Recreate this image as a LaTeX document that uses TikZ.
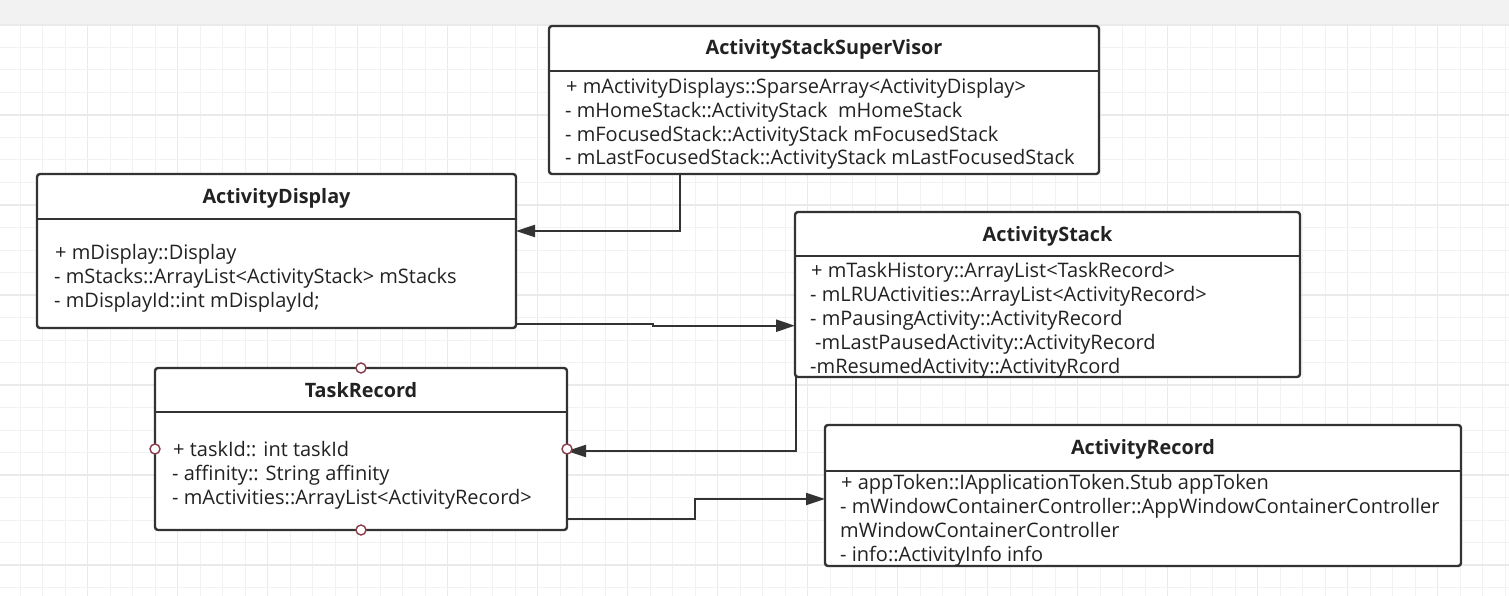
\documentclass[tikz,border=0pt]{standalone}
\usepackage{fontspec}
\setmainfont{Open Sans}
\usetikzlibrary{arrows.meta,calc}
\definecolor{linec}{HTML}{333333}
\definecolor{txtc}{HTML}{222222}
\definecolor{portc}{HTML}{8B3A48}
\definecolor{topc}{HTML}{F2F2F2}
\definecolor{gridminor}{HTML}{F2F2F2}
\definecolor{gridmajor}{HTML}{EAEAEA}
\begin{document}
\begin{tikzpicture}[x=1pt,y=-1pt,
  box/.style={draw=linec, line width=2.4pt, rounded corners=3pt, fill=white, inner sep=0pt, outer sep=0pt},
  divider/.style={draw=linec, line width=2.2pt},
  title/.style={anchor=base, inner sep=0pt, text=txtc, font=\fontsize{19.8}{22}\selectfont\bfseries},
  attr/.style={anchor=base west, inner sep=0pt, text=txtc, font=\fontsize{20}{22}\selectfont},
  conn/.style={draw=linec, line width=2.2pt, -{Triangle[length=19pt,width=12pt]}},
  port/.style={circle, draw=portc, line width=1.4pt, fill=white, minimum size=10pt, inner sep=0pt}
]
\useasboundingbox (0,0) rectangle (1509,596);
\fill[white] (0,0) rectangle (1509,596);
\fill[topc] (0,0) rectangle (1509,25);
% grid
\foreach \k in {1,...,67} {
  \pgfmathsetmacro\xx{-2.3+22.5*\k}
  \pgfmathtruncatemacro\mm{mod(\k,4)}
  \ifnum\mm=0 \draw[gridmajor, line width=1.2pt] (\xx,25) -- (\xx,596);
  \else \draw[gridminor, line width=1pt] (\xx,25) -- (\xx,596); \fi
}
\foreach \k in {0,...,25} {
  \pgfmathsetmacro\yy{25+22.5*\k}
  \pgfmathtruncatemacro\mm{mod(\k,4)}
  \ifnum\mm=0 \draw[gridmajor, line width=1.2pt] (0,\yy) -- (1509,\yy);
  \else \draw[gridminor, line width=1pt] (0,\yy) -- (1509,\yy); \fi
}

% boxes
\node[box, minimum width=550pt, minimum height=148pt] (sup) at (824,100) {};
\node[box, minimum width=479pt, minimum height=154pt] (disp) at (276.5,251) {};
\node[box, minimum width=505pt, minimum height=165pt] (stack) at (1047.5,294.5) {};
\node[box, minimum width=412pt, minimum height=162pt] (tr) at (361,449) {};
\node[box, minimum width=636pt, minimum height=141pt] (ar) at (1143,495.5) {};

% dividers
\draw[divider] (sup.west |- 0,71) -- (sup.east |- 0,71);
\draw[divider] (disp.west |- 0,219) -- (disp.east |- 0,219);
\draw[divider] (stack.west |- 0,256) -- (stack.east |- 0,256);
\draw[divider] (tr.west |- 0,412) -- (tr.east |- 0,412);
\draw[divider] (ar.west |- 0,471) -- (ar.east |- 0,471);

% titles
\node[title] (supT) at (824,55) {ActivityStackSuperVisor};
\node[title] (dispT) at (276.5,204) {ActivityDisplay};
\node[title] (stackT) at (1047.5,241.5) {ActivityStack};
\node[title] (trT) at (361,397.5) {TaskRecord};
\node[title] (arT) at (1143,454) {ActivityRecord};

% attributes
\node[attr] (s1) at (566,94) {+ mActivityDisplays::SparseArray<ActivityDisplay>};
\node[attr] (s2) at (565,118) {- mHomeStack::ActivityStack\ \ mHomeStack};
\node[attr] (s3) at (565,141.5) {- mFocusedStack::ActivityStack mFocusedStack};
\node[attr] (s4) at (565,165) {- mLastFocusedStack::ActivityStack mLastFocusedStack};

\node[attr] (d1) at (55,259) {+ mDisplay::Display};
\node[attr] (d2) at (54,283) {- mStacks::ArrayList<ActivityStack> mStacks};
\node[attr] (d3) at (54,307) {- mDisplayId::int mDisplayId;};

\node[attr] (k1) at (811,277) {+ mTaskHistory::ArrayList<TaskRecord>};
\node[attr] (k2) at (810,301) {- mLRUActivities::ArrayList<ActivityRecord>};
\node[attr] (k3) at (810,325) {- mPausingActivity::ActivityRecord};
\node[attr] (k4) at (815,349) {-mLastPausedActivity::ActivityRecord};
\node[attr] (k5) at (810,373) {-mResumedActivity::ActivityRcord};

\node[attr] (t1) at (173,456) {+ taskId:: int taskId};
\node[attr] (t2) at (172,480) {- affinity:: String affinity};
\node[attr] (t3) at (172,504) {- mActivities::ArrayList<ActivityRecord>};

\node[attr] (a1) at (841,489) {+ appToken::IApplicationToken.Stub appToken};
\node[attr] (a2) at (840,513) {- mWindowContainerController::AppWindowContainerController};
\node[attr] (a3) at (840,537) {mWindowContainerController};
\node[attr] (a4) at (840,561) {- info::ActivityInfo info};

% connectors
\draw[conn] ($(sup.south west)+(131,0)$) |- ($(disp.north east)+(0,57)$);
\draw[conn] ($(disp.north east)+(0,150.3)$) -- ++(137,0) -- ++(0,1.4) -- ($(stack.north west)+(0,113.7)$);
\draw[conn] ($(stack.south west)+(1,0)$) |- ($(tr.east)+(0,2)$);
\draw[conn] ($(tr.north east)+(0,151)$) -- ++(128,0) |- ($(ar.north west)+(0,74)$);

% ports
\node[port] (pN) at (tr.north) {};
\node[port] (pS) at (tr.south) {};
\node[port] (pW) at (tr.west) {};
\node[port] (pE) at (tr.east) {};
\end{tikzpicture}
\end{document}
